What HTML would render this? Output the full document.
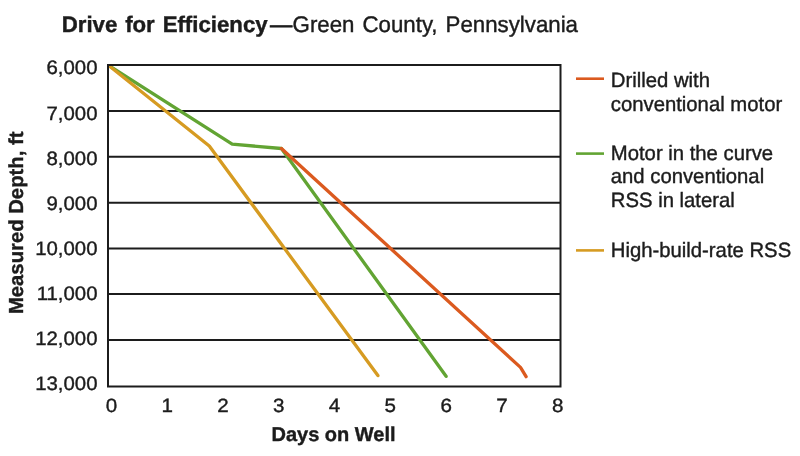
<!DOCTYPE html>
<html>
<head>
<meta charset="utf-8">
<style>
html,body{margin:0;padding:0;background:#fff;}
body{width:800px;height:456px;overflow:hidden;}
svg{display:block;will-change:transform;}
text{font-family:"Liberation Sans", sans-serif;fill:#1c1c1c;stroke:#1c1c1c;stroke-width:0.4px;text-rendering:geometricPrecision;}
.b{font-weight:bold;}
</style>
</head>
<body>
<svg width="800" height="456" viewBox="0 0 800 456">
<!-- title -->
<text class="b" transform="translate(61.7,32) scale(1,1.015)" font-size="22.23" word-spacing="1.7">Drive for Efficiency</text>
<text transform="translate(270,32.1)" font-size="22.3" style="stroke-width:0.6px">—</text>
<text transform="translate(292.6,32) scale(1,1.015)" font-size="22.28" word-spacing="1.8">Green County, Pennsylvania</text>

<!-- grid lines -->
<g stroke="#1c1c1c" stroke-width="2" fill="none">
<line x1="108" y1="110.9" x2="560.5" y2="110.9"/>
<line x1="108" y1="156.8" x2="560.5" y2="156.8"/>
<line x1="108" y1="202.75" x2="560.5" y2="202.75"/>
<line x1="108" y1="248.6" x2="560.5" y2="248.6"/>
<line x1="108" y1="294.1" x2="560.5" y2="294.1"/>
<line x1="108" y1="339.9" x2="560.5" y2="339.9"/>
</g>

<!-- data lines -->
<defs><clipPath id="pc"><rect x="108" y="65" width="452.5" height="321.5"/></clipPath></defs>
<g fill="none" stroke-width="3.3" stroke-linejoin="round" stroke-linecap="round" clip-path="url(#pc)">
<polyline stroke="#62A433" points="108,65 232.2,144.1 281.4,148.5 446.1,376.3"/>
<polyline stroke="#D69B22" points="108,65 209.3,146 377.9,375.6"/>
<polyline stroke="#DB5A1F" points="281.4,148.5 520.5,367.4 526.1,376.7"/>
</g>
<rect x="108" y="65" width="452.5" height="321.5" fill="none" stroke="#1c1c1c" stroke-width="2"/>

<!-- y labels -->
<g font-size="20.4" text-anchor="end">
<text transform="translate(97.55,74) scale(1,0.95)">6,000</text>
<text transform="translate(97.55,120) scale(1,0.95)">7,000</text>
<text transform="translate(97.55,165) scale(1,0.95)">8,000</text>
<text transform="translate(97.55,210) scale(1,0.95)">9,000</text>
<text transform="translate(97.55,255) scale(1,0.95)">10,000</text>
<text transform="translate(97.55,300) scale(1,0.95)">11,000</text>
<text transform="translate(97.55,345) scale(1,0.95)">12,000</text>
<text transform="translate(97.55,390) scale(1,0.95)">13,000</text>
</g>

<!-- x labels -->
<g font-size="20.2" text-anchor="middle">
<text transform="translate(111.4,412) scale(1.02,0.95)">0</text>
<text transform="translate(167.1,412) scale(1.02,0.95)">1</text>
<text transform="translate(222.9,412) scale(1.02,0.95)">2</text>
<text transform="translate(278.7,412) scale(1.02,0.95)">3</text>
<text transform="translate(334.5,412) scale(1.02,0.95)">4</text>
<text transform="translate(390.3,412) scale(1.02,0.95)">5</text>
<text transform="translate(446.1,412) scale(1.02,0.95)">6</text>
<text transform="translate(501.9,412) scale(1.02,0.95)">7</text>
<text transform="translate(557.7,412) scale(1.02,0.95)">8</text>
</g>

<!-- axis titles -->
<text class="b" x="271.45" y="441" font-size="20">Days on Well</text>
<text class="b" font-size="20.3" transform="translate(22.8,314.1) rotate(-90)">Measured Depth, ft</text>

<!-- legend -->
<g stroke-width="2.6">
<line x1="576" y1="78.7" x2="604" y2="78.7" stroke="#DB5A1F"/>
<line x1="576" y1="153.6" x2="604" y2="153.6" stroke="#62A433"/>
<line x1="576" y1="250.4" x2="604" y2="250.4" stroke="#D69B22"/>
</g>
<g font-size="20.3">
<text transform="translate(610.8,87.0) scale(1,1.02)">Drilled with</text>
<text transform="translate(610.8,111.1) scale(1,1.02)">conventional motor</text>
<text transform="translate(610.8,159.8) scale(1,1.02)">Motor in the curve</text>
<text transform="translate(610.8,183) scale(1,1.02)">and conventional</text>
<text transform="translate(610.8,207) scale(1,1.02)">RSS in lateral</text>
<text transform="translate(610.8,256.7) scale(1,1.02)">High-build-rate RSS</text>
</g>
</svg>
</body>
</html>
